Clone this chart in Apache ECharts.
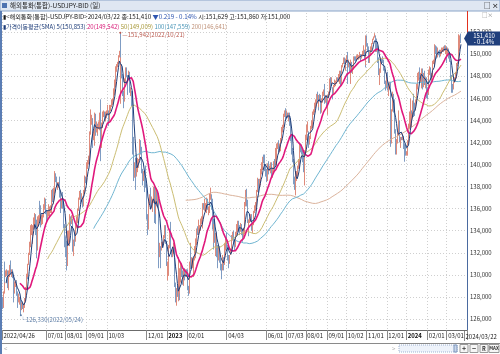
<!DOCTYPE html>
<html>
<head>
<meta charset="utf-8">
<script src="https://cdn.jsdelivr.net/npm/echarts/dist/echarts.min.js"></script>
<style>
html, body { margin: 0; padding: 0; background: #fff; }
#chart { width: 500px; height: 354px; }
</style>
</head>
<body>
<div id="chart"></div>
<script>
// daily candles [open, close, low, high], one array per month (weekdays only)
const d2022_04 = [[127.8,127.2,126.9,128.0],[127.2,128.4,127.0,128.5],[128.4,130.8,128.3,131.0],[130.8,129.7,129.3,131.2]];
const d2022_05 = [[129.7,130.1,129.8,130.4],[130.1,130.1,129.9,130.5],[130.1,129.1,128.8,130.4],[129.1,130.2,128.6,130.4],[130.2,130.6,129.8,130.9],
  [130.6,130.3,130.0,131.3],[130.3,130.4,129.8,130.5],[130.4,129.9,129.7,130.5],[129.9,128.3,127.5,130.0],[128.3,129.2,128.3,129.4],
  [129.2,129.2,128.9,129.5],[129.2,129.4,128.9,129.5],[129.4,128.3,128.1,129.5],[128.3,127.8,127.0,128.5],[127.8,127.9,127.5,128.3],
  [127.9,127.9,127.3,128.0],[127.9,126.9,126.33,127.9],[126.9,127.3,126.8,127.5],[127.3,127.1,126.9,127.6],[127.1,127.1,126.6,127.4],
  [127.1,127.6,127.0,127.9],[127.6,128.7,127.6,128.9]];
const d2022_06 = [[128.7,130.0,128.6,130.1],[130.0,129.9,129.6,130.3],[129.9,130.9,129.8,131.0],
  [130.9,131.9,130.9,132.0],[131.9,132.6,131.8,133.0],[132.6,134.2,132.5,134.5],[134.2,134.4,133.6,134.6],[134.4,134.4,132.8,134.5],
  [134.4,134.4,134.1,135.2],[134.4,135.4,134.2,135.6],[135.4,134.4,133.6,135.5],[134.4,132.2,131.5,135.0],[132.2,135.0,132.2,135.3],
  [135.0,135.1,134.4,135.4],[135.1,136.6,134.9,136.7],[136.6,136.2,135.5,136.7],[136.2,134.9,134.3,136.3],[134.9,135.2,134.5,135.4],
  [135.2,135.4,134.6,135.5],[135.4,136.1,135.2,136.4],[136.1,136.6,135.9,137.0],[136.6,135.7,135.5,136.9]];
const d2022_07 = [[135.7,135.2,134.7,135.9],
  [135.2,135.7,135.0,135.8],[135.7,135.9,135.3,136.4],[135.9,135.9,135.3,136.2],[135.9,136.0,135.6,136.3],[136.0,136.1,135.6,136.6],
  [136.1,137.4,136.0,137.7],[137.4,136.9,136.6,137.8],[136.9,137.4,136.4,137.9],[137.4,139.0,137.3,139.4],[139.0,138.6,138.4,139.2],
  [138.6,138.2,138.0,138.9],[138.2,138.2,137.7,138.4],[138.2,138.2,137.9,138.4],[138.2,137.3,137.0,138.9],[137.3,136.1,135.6,137.5],
  [136.1,136.7,136.0,136.9],[136.7,137.0,136.3,137.5],[137.0,136.6,136.0,137.5],[136.6,134.3,134.2,136.6],[134.3,133.2,132.5,134.6]];
const d2022_08 = [[133.2,131.6,131.6,133.5],[131.6,130.9,130.4,133.1],[130.9,133.2,130.8,134.0],[133.2,133.9,132.7,134.0],[133.9,135.0,132.6,135.5],
  [135.0,134.9,134.4,135.3],[134.9,135.1,134.6,135.4],[135.1,132.9,132.1,135.1],[132.9,133.0,131.7,133.2],[133.0,133.4,132.6,133.6],
  [133.4,133.3,132.6,133.9],[133.3,134.2,133.0,134.5],[134.2,135.0,134.2,135.3],[135.0,135.9,134.7,136.0],[135.9,136.9,135.8,137.0],
  [136.9,137.5,136.8,137.6],[137.5,136.7,136.4,137.7],[136.7,137.0,136.6,137.4],[137.0,136.5,136.1,137.1],[136.5,137.5,136.2,137.7],
  [137.5,138.8,137.4,139.0],[138.8,138.7,138.3,138.9],[138.7,138.9,138.4,139.1]];
const d2022_09 = [[138.9,140.2,138.7,140.2],[140.2,140.2,139.6,140.4],
  [140.2,140.5,140.0,140.8],[140.5,142.7,140.3,143.0],[142.7,144.0,142.7,144.99],[144.0,144.1,143.6,144.5],[144.1,142.6,141.5,144.2],
  [142.6,142.8,142.2,143.0],[142.8,144.6,141.7,144.7],[144.6,143.2,142.6,144.6],[143.2,143.5,142.9,143.9],[143.5,142.9,142.6,143.7],
  [142.9,143.2,142.7,143.5],[143.2,143.7,143.2,143.9],[143.7,144.0,143.1,144.7],[144.0,142.4,140.3,145.9],[142.4,143.3,141.5,143.8],
  [143.3,144.7,143.3,144.8],[144.7,144.8,144.3,144.9],[144.8,144.2,144.0,144.8],[144.2,144.5,143.9,144.8],[144.5,144.7,144.2,144.9]];
const d2022_10 = [[144.7,144.8,144.5,145.4],[144.8,144.1,143.5,144.9],[144.1,144.6,143.9,144.9],[144.6,145.1,144.5,145.4],[145.1,145.3,144.8,145.4],
  [145.3,145.7,145.2,145.9],[145.7,145.8,145.4,146.0],[145.8,146.9,145.7,146.9],[146.9,147.2,146.3,147.7],[147.2,148.7,147.0,148.9],
  [148.7,149.0,148.4,149.1],[149.0,149.2,148.8,149.3],[149.2,149.9,149.1,149.9],[149.9,150.1,149.7,150.3],[150.1,147.6,146.2,151.942],
  [147.6,148.9,145.5,149.7],[148.9,148.0,147.8,149.1],[148.0,146.4,146.2,148.2],[146.4,146.3,145.1,146.7],[146.3,147.5,145.7,147.8],
  [147.5,148.7,147.4,148.8]];
const d2022_11 = [[148.7,148.1,147.9,148.8],[148.1,147.9,146.3,148.1],[147.9,148.2,147.9,148.5],[148.2,146.6,146.5,148.4],
  [146.6,146.6,146.2,147.0],[146.6,145.6,145.3,146.7],[145.6,146.4,144.9,146.6],[146.4,141.0,140.9,146.6],[141.0,138.8,138.5,142.5],
  [138.8,139.9,138.8,140.2],[139.9,139.3,137.7,140.6],[139.3,139.5,138.9,139.8],[139.5,140.2,139.3,140.6],[140.2,140.4,139.7,140.5],
  [140.4,142.1,140.4,142.3],[142.1,141.2,140.9,142.2],[141.2,139.6,139.2,141.6],[139.6,138.6,138.1,139.6],[138.6,139.2,138.5,139.4],
  [139.2,138.9,137.5,139.3],[138.9,138.7,138.2,139.5],[138.7,138.1,137.9,139.9]];
const d2022_12 = [[138.1,135.3,135.0,138.2],[135.3,134.3,133.6,135.5],
  [134.3,136.7,134.1,136.9],[136.7,137.0,136.5,137.3],[137.0,136.5,135.9,137.9],[136.5,136.6,136.1,137.1],[136.6,136.6,135.7,136.9],
  [136.6,137.7,136.5,138.0],[137.7,135.6,134.7,138.0],[135.6,135.5,134.6,135.9],[135.5,137.8,135.5,138.0],[137.8,136.7,136.2,137.8],
  [136.7,136.9,136.1,137.5],[136.9,131.7,130.6,137.4],[131.7,132.5,131.6,132.9],[132.5,132.4,130.6,132.6],[132.4,132.8,132.2,133.0],
  [132.8,132.9,132.6,133.0],[132.9,133.5,132.7,133.6],[133.5,134.4,133.3,134.5],[134.4,133.0,132.8,134.5],[133.0,131.1,130.8,133.1]];
const d2023_01 = [[131.1,130.7,130.5,131.1],[130.7,131.0,129.5,131.2],[131.0,132.5,129.9,132.7],[132.5,134.0,132.4,134.1],[134.0,132.1,131.9,134.8],
  [132.1,131.9,131.6,132.3],[131.9,132.2,131.6,132.3],[132.2,132.4,131.9,132.9],[132.4,129.2,128.9,132.5],[129.2,127.9,127.5,129.3],
  [127.9,128.5,127.2,128.8],[128.5,128.1,128.0,129.0],[128.1,128.9,127.6,131.6],[128.9,128.4,127.7,129.0],[128.4,129.6,128.3,130.6],
  [129.6,130.7,129.3,131.1],[130.7,130.2,129.8,131.0],[130.2,129.2,129.1,130.4],[129.2,130.2,129.0,130.6],[130.2,129.9,129.5,130.6],
  [129.9,130.3,129.8,130.5],[130.3,130.1,129.8,130.5]];
const d2023_02 = [[130.1,128.9,128.6,130.5],[128.9,128.6,128.1,129.0],[128.6,131.2,128.3,131.2],
  [131.2,132.6,131.2,132.9],[132.6,131.1,130.5,132.6],[131.1,131.4,130.7,131.6],[131.4,131.4,130.6,131.5],[131.4,131.4,129.8,131.6],
  [131.4,132.4,131.3,132.6],[132.4,133.2,131.5,133.3],[133.2,134.1,132.7,134.2],[134.1,133.9,133.6,134.4],[133.9,134.2,133.6,135.0],
  [134.2,134.2,133.9,134.5],[134.2,134.9,134.0,135.1],[134.9,134.9,134.6,135.3],[134.9,134.7,134.5,135.2],[134.7,136.4,134.2,136.5],
  [136.4,136.2,135.9,136.5],[136.2,136.2,135.8,136.9]];
const d2023_03 = [[136.2,136.2,135.7,136.5],[136.2,136.7,135.6,137.0],[136.7,135.9,135.9,136.9],
  [135.9,135.9,135.4,136.2],[135.9,137.2,135.6,137.4],[137.2,137.3,136.8,137.9],[137.3,136.1,135.9,137.3],[136.1,134.8,134.1,136.9],
  [134.8,133.2,132.3,135.1],[133.2,134.2,132.9,134.6],[134.2,133.4,132.9,135.1],[133.4,133.7,131.7,133.8],[133.7,131.8,131.6,133.9],
  [131.8,131.4,130.6,132.7],[131.4,132.5,131.3,132.6],[132.5,131.4,131.1,132.6],[131.4,130.9,130.4,131.5],[130.9,130.7,129.6,131.0],
  [130.7,131.5,130.4,131.8],[131.5,130.9,130.4,131.6],[130.9,132.9,130.9,132.9],[132.9,132.7,132.3,133.3],[132.7,132.8,132.2,133.2]];
const d2023_04 = [[132.8,132.4,132.2,133.8],[132.4,131.6,131.3,132.7],[131.6,131.3,130.6,131.8],[131.3,131.8,131.0,131.8],[131.8,132.2,131.8,132.4],
  [132.2,133.6,132.0,133.6],[133.6,133.7,133.1,133.9],[133.7,133.1,132.9,134.0],[133.1,132.6,132.2,133.2],[132.6,133.8,132.5,133.9],
  [133.8,134.5,133.6,134.6],[134.5,134.1,133.9,134.6],[134.1,134.7,133.9,134.9],[134.7,134.3,133.9,134.9],[134.3,134.1,133.6,134.5],
  [134.1,134.3,133.9,134.7],[134.3,133.7,133.6,134.6],[133.7,133.6,133.0,134.1],[133.6,133.9,133.4,134.2],[133.9,136.3,133.7,136.6]];
const d2023_05 = [[136.3,137.5,136.2,137.7],[137.5,136.5,136.2,137.8],[136.5,134.7,134.7,136.8],[134.7,134.3,133.5,135.0],[134.3,134.8,133.9,135.0],
  [134.8,135.1,134.7,135.2],[135.1,135.2,134.8,135.5],[135.2,134.3,134.0,135.5],[134.3,134.5,133.8,134.8],[134.5,135.7,134.5,135.8],
  [135.7,136.1,135.6,136.3],[136.1,136.4,135.8,136.6],[136.4,137.6,136.2,137.7],[137.6,138.7,137.5,138.8],[138.7,137.9,137.4,138.7],
  [137.9,138.6,137.8,138.7],[138.6,138.6,138.1,138.9],[138.6,139.5,138.3,139.6],[139.5,139.9,139.1,140.2],[139.9,140.6,139.5,140.7],
  [140.6,140.4,140.1,140.9],[140.4,139.8,139.4,140.9],[139.8,139.3,138.9,140.0]];
const d2023_06 = [[139.3,138.8,138.4,139.6],[138.8,140.0,138.5,140.1],
  [140.0,139.6,139.1,140.3],[139.6,139.6,139.4,139.9],[139.6,140.1,139.2,140.2],[140.1,139.0,138.8,140.2],[139.0,139.4,138.8,139.6],
  [139.4,139.5,139.2,139.7],[139.5,140.2,139.2,140.3],[140.2,140.0,139.4,140.5],[140.0,140.3,139.9,141.5],[140.3,141.8,139.9,141.9],
  [141.8,141.9,141.4,142.0],[141.9,141.4,141.0,142.2],[141.4,141.9,141.1,141.9],[141.9,142.0,141.2,142.4],[142.0,143.1,142.0,143.4],
  [143.1,143.4,142.9,143.6],[143.4,143.9,143.3,144.2],[143.9,144.3,143.8,144.6],[144.3,144.8,144.3,144.9],[144.8,144.3,144.0,145.1]];
const d2023_07 = [[144.3,144.6,144.3,144.9],[144.6,144.4,144.2,144.7],[144.4,144.6,143.9,144.7],[144.6,144.1,143.5,144.7],[144.1,142.1,142.1,144.2],
  [142.1,141.3,140.9,142.6],[141.3,140.4,140.2,141.5],[140.4,138.5,138.2,140.5],[138.5,138.1,137.7,138.9],[138.1,138.8,137.2,139.0],
  [138.8,138.8,138.4,139.4],[138.8,139.3,138.5,139.4],[139.3,139.8,138.9,139.9],[139.8,140.0,139.6,140.5],[140.0,141.8,139.8,141.9],
  [141.8,141.5,141.1,141.9],[141.5,140.9,140.9,141.8],[140.9,140.4,140.2,141.3],[140.4,139.5,139.3,141.3],[139.5,141.2,138.1,141.3],
  [141.2,142.3,141.0,142.7]];
const d2023_08 = [[142.3,143.3,142.2,143.5],[143.3,143.4,142.8,143.6],[143.4,143.6,142.9,143.9],[143.6,141.8,141.5,143.0],
  [141.8,142.5,141.8,142.6],[142.5,143.4,142.3,143.5],[143.4,143.8,143.2,144.0],[143.8,144.7,143.3,144.8],[144.7,144.9,144.5,145.0],
  [144.9,145.6,144.7,145.6],[145.6,145.6,145.1,145.9],[145.6,146.4,145.4,146.4],[146.4,145.8,145.7,146.6],[145.8,145.4,144.9,146.0],
  [145.4,146.2,145.2,146.3],[146.2,145.9,145.7,146.4],[145.9,144.8,144.6,146.3],[144.8,145.8,144.7,146.0],[145.8,146.4,145.6,146.6],
  [146.4,146.6,146.2,146.8],[146.6,145.9,145.5,147.3],[145.9,146.2,145.6,146.3],[146.2,145.5,145.3,146.3]];
const d2023_09 = [[145.5,146.2,144.5,146.3],
  [146.2,146.5,146.0,146.6],[146.5,147.7,146.3,147.8],[147.7,147.7,147.3,147.9],[147.7,147.3,146.9,147.9],[147.3,147.8,147.1,147.9],
  [147.8,146.6,145.9,147.0],[146.6,147.1,146.4,147.2],[147.1,147.5,147.0,147.7],[147.5,147.5,147.1,147.6],[147.5,147.9,147.3,147.9],
  [147.9,147.6,147.5,147.9],[147.6,147.9,147.5,148.2],[147.9,148.3,147.3,148.5],[148.3,147.6,147.2,148.5],[147.6,148.4,147.3,148.5],
  [148.4,148.9,148.2,149.0],[148.9,149.1,148.8,149.2],[149.1,149.6,149.1,149.7],[149.6,149.3,149.1,149.7],[149.3,149.4,148.5,149.6]];
const d2023_10 = [[149.4,149.9,149.2,149.9],[149.9,149.0,147.3,150.2],[149.0,149.1,148.8,149.5],[149.1,148.5,148.4,149.2],[148.5,149.3,147.3,149.5],
  [149.3,148.5,148.3,149.3],[148.5,148.7,148.2,149.0],[148.7,149.1,148.6,149.3],[149.1,149.8,148.8,149.8],[149.8,149.6,149.4,149.8],
  [149.6,149.5,149.3,149.8],[149.5,149.8,149.5,149.9],[149.8,149.8,149.5,150.0],[149.8,149.8,149.5,149.9],[149.8,149.9,149.6,150.2],
  [149.9,149.7,149.3,150.0],[149.7,149.9,149.6,150.0],[149.9,150.2,149.8,150.3],[150.2,150.4,149.9,150.8],[150.4,149.6,149.5,150.4],
  [149.6,149.1,148.8,149.8],[149.1,151.7,149.0,151.7]];
const d2023_11 = [[151.7,150.9,150.7,151.7],[150.9,150.4,150.2,151.0],[150.4,149.4,149.2,150.7],
  [149.4,150.0,149.2,150.2],[150.0,150.4,150.0,150.7],[150.4,151.0,150.3,151.0],[151.0,151.4,150.9,151.4],[151.4,151.5,151.3,151.6],
  [151.5,151.7,151.5,151.9],[151.7,150.4,150.2,151.7],[150.4,151.3,150.2,151.4],[151.3,150.7,150.5,151.4],[150.7,149.6,149.2,150.8],
  [149.6,148.3,148.1,149.7],[148.3,148.4,147.2,148.7],[148.4,149.6,148.3,149.7],[149.6,149.5,149.2,149.6],[149.5,149.4,149.2,149.8],
  [149.4,148.7,148.5,149.5],[148.7,147.4,147.3,148.7],[147.4,147.2,146.7,147.6],[147.2,148.2,146.9,148.3]];
const d2023_12 = [[148.2,146.8,146.7,148.4],
  [146.8,147.2,146.2,147.2],[147.2,147.2,146.9,147.4],[147.2,147.3,146.8,147.5],[147.3,144.0,141.6,147.5],[144.0,144.9,141.9,145.0],
  [144.9,146.2,144.8,146.6],[146.2,145.4,144.7,146.4],[145.4,142.9,142.8,145.9],[142.9,141.9,140.9,143.2],[141.9,142.2,140.9,142.3],
  [142.2,142.8,141.9,142.9],[142.8,143.9,142.6,144.9],[143.9,143.5,143.2,144.0],[143.5,142.1,142.0,143.6],[142.1,142.4,141.5,142.5],
  [142.4,142.3,142.2,142.5],[142.3,142.4,142.2,142.8],[142.4,141.8,141.4,142.6],[141.8,141.4,140.25,141.9],[141.4,141.0,140.8,141.8]];
const d2024_01 = [[141.0,141.0,140.8,141.2],[141.0,142.0,140.8,142.2],[142.0,143.3,141.9,143.7],[143.3,144.6,143.2,144.8],[144.6,144.6,143.4,145.98],
  [144.6,144.2,143.7,144.9],[144.2,144.4,143.4,144.6],[144.4,145.7,144.2,145.8],[145.7,145.3,144.3,146.4],[145.3,144.9,144.4,145.6],
  [144.9,145.8,144.9,145.9],[145.8,147.2,145.6,147.3],[147.2,148.1,146.8,148.3],[148.1,148.2,147.6,148.4],[148.2,148.1,147.7,148.8],
  [148.1,148.1,147.4,148.3],[148.1,148.4,146.9,148.7],[148.4,147.5,146.8,148.7],[147.5,147.6,147.0,147.9],[147.6,148.1,147.4,148.3],
  [148.1,147.4,147.2,148.5],[147.4,147.6,146.9,147.9],[147.6,146.9,146.0,147.9]];
const d2024_02 = [[146.9,146.4,145.9,147.0],[146.4,148.4,146.3,148.6],
  [148.4,148.7,148.1,148.9],[148.7,147.9,147.6,148.8],[147.9,148.2,147.6,148.3],[148.2,149.3,147.9,149.4],[149.3,149.3,149.1,149.5],
  [149.3,149.3,148.9,149.6],[149.3,150.8,149.0,150.9],[150.8,150.6,150.0,150.8],[150.6,149.9,149.6,150.7],[149.9,150.2,149.7,150.6],
  [150.2,150.1,149.9,150.3],[150.1,150.0,149.7,150.4],[150.0,150.3,149.8,150.4],[150.3,150.5,150.0,150.6],[150.5,150.5,150.2,150.6],
  [150.5,150.7,150.2,150.7],[150.7,150.5,150.3,150.8],[150.5,150.6,150.0,150.8],[150.6,150.0,149.2,150.7]];
const d2024_03 = [[150.0,150.1,149.8,150.4],
  [150.1,150.5,150.0,150.6],[150.5,150.0,149.6,150.5],[150.0,149.4,149.3,150.2],[149.4,147.9,147.6,149.4],[147.9,147.1,146.5,148.1],
  [147.1,147.0,146.5,147.3],[147.0,147.7,146.8,147.9],[147.7,147.8,147.4,147.9],[147.8,148.3,147.5,148.4],[148.3,149.0,147.8,149.2],
  [149.0,149.2,148.9,149.3],[149.2,150.9,149.2,150.9],[150.9,151.3,150.3,151.8],[151.3,151.629,150.3,151.7],[151.629,151.41,151.0,151.86]];

const ohlc = [].concat(d2022_04, d2022_05, d2022_06, d2022_07, d2022_08, d2022_09, d2022_10, d2022_11, d2022_12,
  d2023_01, d2023_02, d2023_03, d2023_04, d2023_05, d2023_06, d2023_07, d2023_08, d2023_09, d2023_10, d2023_11, d2023_12,
  d2024_01, d2024_02, d2024_03);

// moving average periods and colours
const maPeriods = [5, 20, 50, 100, 200];
const maColors = ['#1d3c78', '#e0187c', '#cbbd72', '#6fb5d1', '#dbb39c'];
const maWidths = [1, 1.6, 1, 1, 1];

// x axis tick labels (date -> text); the last date is drawn separately
const tickLabels = {
    '2022-04-26': '2022/04/26', '2022-07-01': '07/01', '2022-08-01': '08/01', '2022-09-01': '09/01',
    '2022-10-03': '10/03', '2022-12-01': '12/01', '2023-01-02': '{y|2023}', '2023-02-01': '02/01',
    '2023-04-03': '04/03', '2023-06-01': '06/01', '2023-07-03': '07/03', '2023-08-01': '08/01',
    '2023-09-01': '09/01', '2023-10-02': '10/02', '2023-11-01': '11/01', '2023-12-01': '12/01',
    '2024-01-01': '{y|2024}', '2024-02-01': '02/01', '2024-03-01': '03/01'
};
const lastLabel = '2024/03/22';

/* weekday calendar for the categories */
const dates = [];
let t = Date.UTC(2022, 3, 26);
while (dates.length < ohlc.length) {
    let d = new Date(t);
    if (d.getUTCDay() !== 0 && d.getUTCDay() !== 6) dates.push(d.toISOString().slice(0, 10));
    t += 86400000;
}
const categories = dates.concat(['e1', 'e2', 'e3', 'e4', 'e5', 'e6']);

const closes = ohlc.map(d => d[1]);
function sma(n) {
    return closes.map(function (v, i) {
        if (i < n - 1) return null;
        let s = 0;
        for (let k = i - n + 1; k <= i; k++) s += closes[k];
        return +(s / n).toFixed(3);
    });
}

const hiIdx = dates.indexOf('2022-10-21');
const loIdx = dates.indexOf('2022-05-24');
const isTick = (idx, val) => tickLabels[val] !== undefined;
const FONT = '"Noto Sans CJK KR", "Noto Sans", sans-serif';

let chart = echarts.init(document.getElementById('chart'), null, {renderer: 'canvas'});

let series = [{
    type: 'candlestick',
    data: ohlc,
    barWidth: 1,
    itemStyle: {color: '#df8b7c', color0: '#7f9cc3', borderColor: '#df8b7c', borderColor0: '#7f9cc3', borderWidth: 1},
    markPoint: {
        symbol: 'circle',
        symbolSize: 2,
        animation: false,
        data: [
            {
                coord: [categories[hiIdx], ohlc[hiIdx][3]],
                itemStyle: {color: '#c0584c'},
                label: {show: true, position: 'right', distance: 1, offset: [0, 2], formatter: '—151,942(2022/10/21)',
                    color: '#b9594e', fontSize: 6, fontFamily: FONT}
            },
            {
                coord: [categories[loIdx], ohlc[loIdx][2]],
                itemStyle: {color: '#5d7da6'},
                label: {show: true, position: [0, 2], align: 'left', verticalAlign: 'top', formatter: '└126,330(2022/05/24)',
                    color: '#5d7da6', fontSize: 6, fontFamily: FONT}
            }
        ]
    }
}];
for (let i = maPeriods.length - 1; i >= 0; i--) {
    series.push({
        type: 'line',
        name: 'MA' + maPeriods[i],
        data: sma(maPeriods[i]),
        symbol: 'none',
        silent: true,
        lineStyle: {color: maColors[i], width: maWidths[i]}
    });
}

let option = {
    animation: false,
    backgroundColor: '#fff',
    grid: {left: 2, right: 33, top: 10, bottom: 24},
    xAxis: {
        type: 'category',
        data: categories,
        boundaryGap: true,
        axisLine: {show: true, lineStyle: {color: '#6b6b6b'}},
        axisTick: {show: true, interval: isTick, length: 10, lineStyle: {color: '#8a8a8a'}},
        axisLabel: {
            interval: isTick, align: 'left', margin: 3, padding: [0, 0, 0, 1],
            fontSize: 6, color: '#222', fontFamily: FONT,
            formatter: v => tickLabels[v] || '',
            rich: {y: {fontSize: 6, fontWeight: 'bold', color: '#111', fontFamily: FONT}}
        },
        splitLine: {show: true, interval: isTick, lineStyle: {color: '#cfcfcf', type: [1, 2]}}
    },
    yAxis: {
        type: 'value',
        position: 'right',
        min: 125,
        max: 154,
        interval: 1,
        axisLine: {show: true, lineStyle: {color: '#4a6aa0'}},
        axisTick: {show: false},
        axisLabel: {
            fontSize: 6, color: '#333', margin: 3, fontFamily: FONT,
            formatter: v => (v % 2 === 0 && v >= 126 && v <= 152) ? v.toFixed(3).replace('.', ',') : ''
        },
        splitLine: {show: true, showMaxLine: false, lineStyle: {color: ['transparent', '#cfcfcf'], type: [1, 2]}}
    },
    series: series,
    graphic: [
        // title bar
        {type: 'rect', shape: {x: 0, y: 0, width: 500, height: 11}, style: {fill: '#dfe7f2', stroke: '#8aa4c8', lineWidth: 1}, z: 100},
        {type: 'rect', shape: {x: 2, y: 3, width: 5, height: 5}, style: {fill: '#4d73b0'}, z: 101},
        {type: 'text', x: 10, y: 6, style: {text: '해외통화(통합)-USDJPY-BID (일)', font: '6.5px ' + FONT, fill: '#1a1a1a', verticalAlign: 'middle'}, z: 101},
        {type: 'text', x: 484, y: 6, style: {text: '□ ×', font: 'bold 6.5px ' + FONT, fill: '#222', verticalAlign: 'middle'}, z: 101},
        {type: 'text', x: 482, y: 15, style: {text: '□×', font: '5.5px ' + FONT, fill: '#888', verticalAlign: 'middle'}, z: 101},
        // left border
        {type: 'rect', shape: {x: 0, y: 11, width: 2, height: 343}, style: {fill: '#5a7db4'}, z: 100},
        // info lines
        {type: 'text', x: 3, y: 17, z: 101, style: {
            text: '{k|▮<해외통화(통합)-USDJPY-BID>2024/03/22 종:151,410 }{b|▼0.219 - 0.14%}{k| 시:151,629 고:151,860 저:151,000}',
            verticalAlign: 'middle',
            rich: {k: {font: '6.2px ' + FONT, fill: '#1a1a1a'}, b: {font: '6.2px ' + FONT, fill: '#2f56b0'}}
        }},
        {type: 'text', x: 3, y: 27, z: 101, style: {
            text: '{k|▮가격이동평균(SMA) 5(150,853) }{m|20(149,542) }{o|50(149,009) }{t|100(147,559) }{n|200(146,641)}',
            verticalAlign: 'middle',
            rich: {
                k: {font: '6px ' + FONT, fill: '#1d3c78'}, m: {font: '6px ' + FONT, fill: '#d81b78'},
                o: {font: '6px ' + FONT, fill: '#a99a3c'}, t: {font: '6px ' + FONT, fill: '#4c97b8'},
                n: {font: '6px ' + FONT, fill: '#c0937a'}
            }
        }},
        // bottom band + scroll row
        {type: 'line', shape: {x1: 2, y1: 343.5, x2: 500, y2: 343.5}, style: {stroke: '#8a8a8a', lineWidth: 1}, z: 100},
        {type: 'text', x: 4, y: 348.5, style: {text: '<', font: '6px ' + FONT, fill: '#aaa', verticalAlign: 'middle'}, z: 101},
        {type: 'text', x: 392, y: 348.5, style: {text: '>', font: '6px ' + FONT, fill: '#aaa', verticalAlign: 'middle'}, z: 101},
        {type: 'rect', shape: {x: 399, y: 345, width: 58, height: 7}, style: {fill: '#eef3fb', stroke: '#9fb3d2', lineWidth: 1, lineDash: [1, 1]}, z: 101},
        {type: 'rect', shape: {x: 454, y: 345, width: 3, height: 7}, style: {fill: '#c8d6ea', stroke: '#7f97bd', lineWidth: 1}, z: 101},
        {type: 'rect', shape: {x: 460, y: 344.5, width: 8, height: 8}, style: {fill: '#f6f6f6', stroke: '#999', lineWidth: 1}, z: 101},
        {type: 'text', x: 464, y: 348.5, style: {text: '+', font: 'bold 7px ' + FONT, fill: '#333', align: 'center', verticalAlign: 'middle'}, z: 102},
        {type: 'rect', shape: {x: 470, y: 344.5, width: 8, height: 8}, style: {fill: '#f6f6f6', stroke: '#999', lineWidth: 1}, z: 101},
        {type: 'text', x: 474, y: 348.5, style: {text: '−', font: 'bold 7px ' + FONT, fill: '#333', align: 'center', verticalAlign: 'middle'}, z: 102},
        {type: 'rect', shape: {x: 480, y: 344.5, width: 8, height: 8}, style: {fill: '#f6f6f6', stroke: '#999', lineWidth: 1}, z: 101},
        {type: 'text', x: 484, y: 348.5, style: {text: 'R', font: 'bold 5.5px ' + FONT, fill: '#333', align: 'center', verticalAlign: 'middle'}, z: 102},
        {type: 'rect', shape: {x: 489, y: 344.5, width: 10, height: 8}, style: {fill: '#f6f6f6', stroke: '#999', lineWidth: 1}, z: 101},
        {type: 'text', x: 494, y: 348.5, style: {text: 'MAX', font: 'bold 4.5px ' + FONT, fill: '#333', align: 'center', verticalAlign: 'middle'}, z: 102}
    ]
};
chart.setOption(option);

/* last price tag on the right axis, last date label right of the last candle */
let lastY = chart.convertToPixel({yAxisIndex: 0}, closes[closes.length - 1]);
let lastX = chart.convertToPixel({xAxisIndex: 0}, dates[dates.length - 1]);
chart.setOption({
    graphic: option.graphic.concat([
        {type: 'line', shape: {x1: 467.5, y1: 11, x2: 467.5, y2: lastY - 6}, style: {stroke: '#e2301e', lineWidth: 1}, z: 103},
        {type: 'polygon', shape: {points: [[464, lastY], [468, lastY - 7], [500, lastY - 7], [500, lastY + 7], [468, lastY + 7]]},
            style: {fill: '#203f7c'}, z: 103},
        {type: 'text', x: 484, y: lastY - 3, style: {text: '151,410', font: '6px ' + FONT, fill: '#fff', align: 'center', verticalAlign: 'middle'}, z: 104},
        {type: 'text', x: 484, y: lastY + 3.5, style: {text: '- 0.14%', font: '6px ' + FONT, fill: '#fff', align: 'center', verticalAlign: 'middle'}, z: 104},
        {type: 'line', shape: {x1: Math.round(lastX) + 3.5, y1: 331, x2: Math.round(lastX) + 3.5, y2: 341}, style: {stroke: '#8a8a8a', lineWidth: 1}, z: 103},
        {type: 'text', x: Math.round(lastX) + 4.5, y: 337, style: {text: lastLabel, font: '6px ' + FONT, fill: '#222', verticalAlign: 'middle'}, z: 104}
    ])
});

window.addEventListener('resize', function () {
    chart.resize();
});
</script>
</body>
</html>
